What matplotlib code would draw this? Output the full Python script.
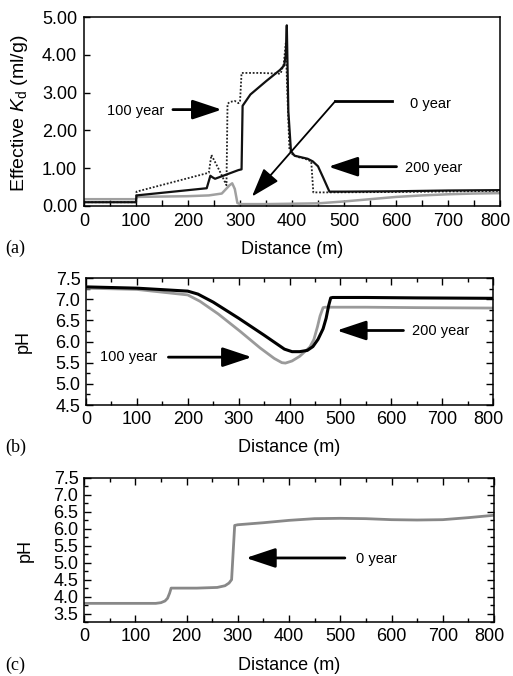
import numpy as np
import matplotlib
matplotlib.use("Agg")
import matplotlib.pyplot as plt
import matplotlib.transforms as mtransforms

plt.rcParams["font.family"] = ["Liberation Sans", "DejaVu Sans"]
plt.rcParams["mathtext.fontset"] = "custom"
plt.rcParams["mathtext.rm"] = "Liberation Sans"
plt.rcParams["mathtext.it"] = "Liberation Sans:italic"

# (a) effective Kd along the flow path
kd_x_0yr = [0, 100, 101, 150, 200, 240, 265, 280, 285, 290, 295, 300, 350, 400, 450,
            500, 550, 600, 650, 700, 750, 800]
kd_y_0yr = [0.18, 0.18, 0.24, 0.25, 0.26, 0.28, 0.33, 0.55, 0.6, 0.45, 0.08, 0.05, 0.05,
            0.06, 0.07, 0.12, 0.18, 0.24, 0.28, 0.31, 0.33, 0.34]
kd_x_100yr = [0, 100, 101, 240, 245, 260, 274, 276, 280, 290, 297, 300, 303, 340, 378,
              384, 388, 391, 395, 400, 410, 425, 437, 441, 460, 600, 800]
kd_y_100yr = [0.1, 0.1, 0.38, 0.88, 1.35, 0.95, 0.55, 2.7, 2.75, 2.78, 2.72, 2.75, 3.52,
              3.52, 3.5, 3.75, 4.3, 3.0, 1.5, 1.38, 1.3, 1.25, 1.18, 0.36, 0.36, 0.37, 0.4]
kd_x_200yr = [0, 100, 101, 236, 243, 247, 252, 297, 303, 305, 320, 350, 377, 385, 388,
              390, 393, 398, 405, 430, 440, 450, 460, 472, 500, 600, 700, 800]
kd_y_200yr = [0.1, 0.1, 0.28, 0.47, 0.8, 0.76, 0.72, 0.95, 0.97, 2.65, 2.95, 3.3, 3.6,
              3.72, 4.0, 4.78, 2.5, 1.45, 1.33, 1.25, 1.18, 1.05, 0.75, 0.38, 0.38, 0.39,
              0.41, 0.42]

# (b) pH, 100 and 200 year
ph_x_200yr = [0, 100, 200, 220, 250, 300, 350, 390, 405, 420, 435, 446, 456, 466, 472,
              477, 481, 485, 550, 650, 800]
ph_y_200yr = [7.29, 7.26, 7.19, 7.12, 6.93, 6.55, 6.15, 5.82, 5.76, 5.76, 5.79, 5.88,
              6.05, 6.3, 6.55, 6.85, 7.03, 7.04, 7.04, 7.03, 7.02]
ph_x_100yr = [0, 100, 200, 224, 260, 303, 342, 370, 385, 392, 405, 420, 440, 448, 455,
              460, 466, 470, 550, 650, 800]
ph_y_100yr = [7.26, 7.23, 7.1, 6.95, 6.65, 6.24, 5.85, 5.6, 5.5, 5.49, 5.54, 5.65, 5.87,
              6.05, 6.35, 6.6, 6.8, 6.81, 6.81, 6.8, 6.79]

# (c) pH, 0 year
ph_x_0yr = [0, 100, 140, 150, 158, 163, 167, 170, 180, 220, 260, 275, 283, 288, 291, 294,
            300, 350, 400, 450, 500, 550, 600, 650, 700, 750, 800]
ph_y_0yr = [3.8, 3.8, 3.8, 3.82, 3.87, 3.95, 4.1, 4.25, 4.25, 4.25, 4.27, 4.32, 4.4, 4.5,
            5.3, 6.1, 6.12, 6.18, 6.25, 6.3, 6.31, 6.3, 6.27, 6.26, 6.27, 6.33, 6.4]

W, H = 513, 676
fig = plt.figure(figsize=(W / 100, H / 100), dpi=100)


def box(left, top, right, bottom):
    return [left / W, 1 - bottom / H, (right - left) / W, (bottom - top) / H]


ax_a = fig.add_axes(box(84, 17, 500, 206))
ax_b = fig.add_axes(box(86, 278, 493, 405))
ax_c = fig.add_axes(box(84, 478, 494, 622))

arrow_kw = dict(arrowstyle="-|>,head_length=1.8,head_width=0.6", mutation_scale=10,
                lw=2, color="black", shrinkA=0, shrinkB=0)
note_fs = 10.5


def arrow(ax, tail, tip, **kw):
    props = dict(arrow_kw)
    props.update(kw)
    ax.annotate("", xy=tip, xytext=tail, arrowprops=props)


# ---- (a)
ax_a.plot(kd_x_0yr, kd_y_0yr, color="#a0a0a0", lw=1.8)
ax_a.plot(kd_x_100yr, kd_y_100yr, color="#222222", lw=1.3, ls=(0, (1, 1)))
ax_a.plot(kd_x_200yr, kd_y_200yr, color="#111111", lw=1.6)
ax_a.set_xlim(0, 800)
ax_a.set_ylim(0, 5)
ax_a.set_xticks(np.arange(0, 801, 100))
ax_a.set_xticks(np.arange(50, 800, 100), minor=True)
ax_a.set_yticks(np.arange(0, 5.01, 1))
ax_a.set_yticklabels([f"{v:.2f}" for v in np.arange(0, 5.01, 1)])
ax_a.tick_params(which="both", direction="in", length=4, width=1, labelsize=13, pad=5)
ax_a.set_ylabel(r"Effective $\mathit{K}_{\mathrm{d}}$ (ml/g)", fontsize=14, va="center")
ax_a.yaxis.set_label_coords((20 - 84) / 416, 0.49)

ax_a.text(44, 2.52, "100 year", fontsize=note_fs, va="center")
arrow(ax_a, (171, 2.55), (265, 2.55))
ax_a.text(627, 2.7, "0 year", fontsize=note_fs, va="center")
ax_a.plot([483, 592], [2.77, 2.77], color="black", lw=2)
arrow(ax_a, (483, 2.77), (323, 0.25), lw=1.3)
ax_a.text(617, 1.0, "200 year", fontsize=note_fs, va="center")
arrow(ax_a, (601, 1.04), (470, 1.04))

# ---- (b)
ax_b.plot(ph_x_100yr, ph_y_100yr, color="#9a9a9a", lw=2)
ax_b.plot(ph_x_200yr, ph_y_200yr, color="black", lw=2.2)
ax_b.set_ylim(4.5, 7.5)
ax_b.text(27, 5.63, "100 year", fontsize=note_fs, va="center")
arrow(ax_b, (162, 5.63), (326, 5.63))
ax_b.text(641, 6.24, "200 year", fontsize=note_fs, va="center")
arrow(ax_b, (624, 6.26), (493, 6.26))

# ---- (c)
ax_c.plot(ph_x_0yr, ph_y_0yr, color="#888888", lw=2)
ax_c.set_ylim(3.25, 7.5)
ax_c.text(531, 5.11, "0 year", fontsize=note_fs, va="center")
arrow(ax_c, (509, 5.14), (316, 5.14))

for ax in (ax_b, ax_c):
    ax.set_xlim(0, 800)
    ax.set_xticks(np.arange(0, 801, 100))
    ax.set_xticks(np.arange(50, 800, 100), minor=True)
    lo = ax.get_ylim()[0]
    ax.set_yticks(np.arange(3.5 if lo < 4 else 4.5, 7.51, 0.5))
    ax.set_yticks(np.arange(lo, 7.51, 0.25), minor=True)
    ax.set_yticklabels([f"{v:.1f}" for v in ax.get_yticks()])
    ax.tick_params(which="both", direction="in", top=True, right=True, labelsize=13, pad=4)
    ax.tick_params(which="major", length=5, width=1)
    ax.tick_params(which="minor", length=3, width=1)
    ax.set_ylabel("pH", fontsize=13, va="center")

ax_b.yaxis.set_label_coords((23 - 86) / 407, 0.5)
ax_c.yaxis.set_label_coords((25 - 84) / 410, 0.5)

for ax, hpx in ((ax_a, 189), (ax_b, 127), (ax_c, 144)):
    for s in ax.spines.values():
        s.set_linewidth(1.1)
    ax.set_xlabel("Distance (m)", fontsize=13, va="center")
    ax.xaxis.set_label_coords(0.5, -43 / hpx)
    # pull the last x label in a bit so it stays inside the figure
    last = ax.get_xticklabels()[-1]
    last.set_transform(last.get_transform()
                       + mtransforms.ScaledTranslation(-5 / 100, 0, fig.dpi_scale_trans))

for lab, ypx in (("(a)", 248), ("(b)", 447), ("(c)", 665)):
    fig.text(5 / W, 1 - ypx / H, lab, fontsize=13, family="Liberation Serif", va="center")

fig.savefig("out.png", dpi=100)
